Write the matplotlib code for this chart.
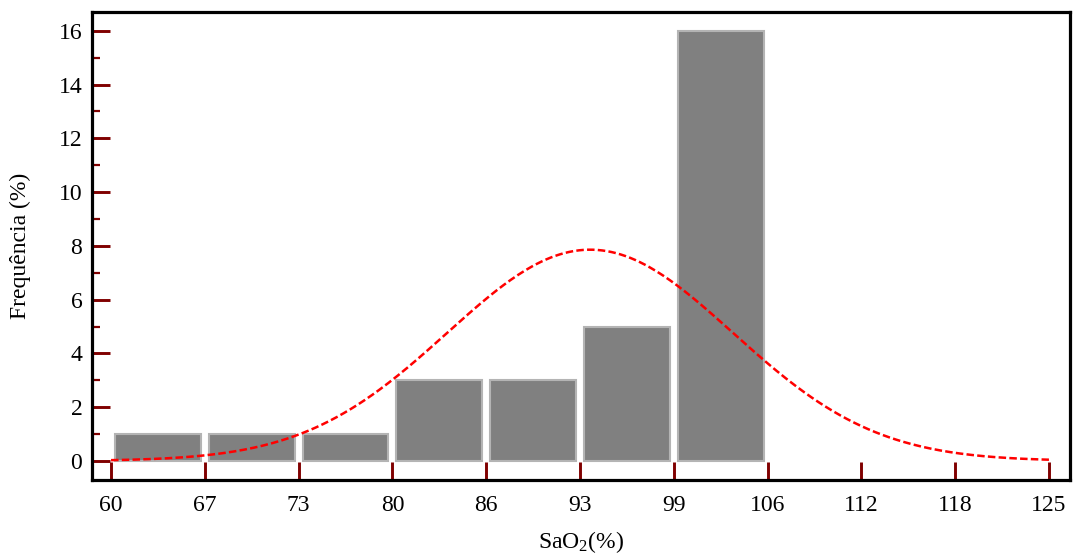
#histogram of SaO2 with fitted normal curve
import numpy as np
import matplotlib.pyplot as plt
from matplotlib.ticker import MultipleLocator

plt.rcParams['font.family'] = ['Liberation Serif', 'DejaVu Serif']
plt.rcParams['mathtext.fontset'] = 'custom'
plt.rcParams['mathtext.rm'] = 'Liberation Serif'
plt.rcParams['mathtext.default'] = 'rm'

# bin edges and counts
bin_edges = [60, 66.5, 73, 79.5, 86, 92.5, 99, 105.5, 112, 118.5, 125]
edge_labels = ['60', '67', '73', '80', '86', '93', '99', '106', '112', '118', '125']
counts = [1, 1, 1, 3, 3, 5, 16]

# fitted normal curve parameters
fit_mean = 93.2
fit_sd = 9.9

edges = np.array(bin_edges)
width = edges[1] - edges[0]
mids = (edges[:-1] + edges[1:]) / 2
n = sum(counts)

fig = plt.figure(figsize=(10.78, 5.55), dpi=100)
ax = fig.add_axes([92/1078, 1-480/555, (1070-92)/1078, (480-12)/555])

ax.bar(mids[:len(counts)], counts, width=width - 0.55, color='#808080',
       edgecolor='#b4b4b4', linewidth=1.5, zorder=2)

xs = np.linspace(edges[0], edges[-1], 400)
ys = n * width / (fit_sd * np.sqrt(2 * np.pi)) * np.exp(-0.5 * ((xs - fit_mean) / fit_sd) ** 2)
ax.plot(xs, ys, color='#ff0000', lw=1.8, linestyle=(0, (3, 1.3)), zorder=3)

ax.set_xlim(58.68, 126.46)
ax.set_ylim(-0.71, 16.7)
ax.set_xticks(edges)
ax.set_xticklabels(edge_labels)
ax.set_yticks(range(0, 17, 2))
ax.yaxis.set_minor_locator(MultipleLocator(1))

for s in ax.spines.values():
    s.set_linewidth(2.3)
    s.set_color('black')

ax.tick_params(axis='x', direction='in', length=13, width=2.1, color='#800000',
               labelsize=17, pad=11)
ax.tick_params(axis='y', which='major', direction='in', length=13, width=2.1,
               color='#800000', labelsize=17, pad=7)
ax.tick_params(axis='y', which='minor', direction='in', length=6, width=1.6,
               color='#800000')
ax.tick_params(axis='x', which='minor', bottom=False)

ax.set_xlabel('SaO$_2$(%)', fontsize=17, labelpad=9)
ax.set_ylabel('Frequência (%)', fontsize=17, labelpad=20)

plt.savefig('out.png', dpi=100)
